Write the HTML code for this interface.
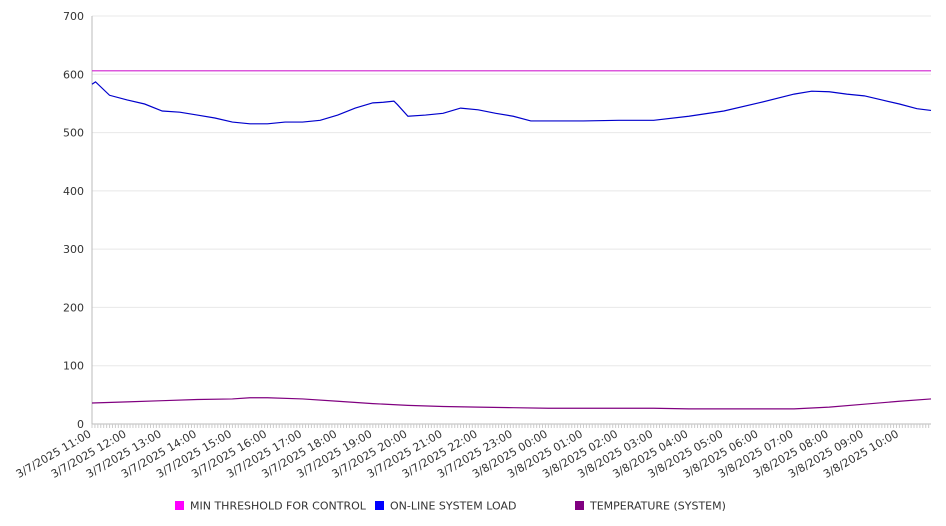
<!DOCTYPE html>
<html><head><meta charset="utf-8"><style>
body{margin:0;background:#fff;}
svg{display:block;font-family:"DejaVu Sans","Liberation Sans",sans-serif;}
</style></head><body>
<svg id="chart" width="946" height="526"></svg>
<script>
const hourLabels=["3/7/2025 11:00","3/7/2025 12:00","3/7/2025 13:00","3/7/2025 14:00","3/7/2025 15:00","3/7/2025 16:00","3/7/2025 17:00","3/7/2025 18:00","3/7/2025 19:00","3/7/2025 20:00","3/7/2025 21:00","3/7/2025 22:00","3/7/2025 23:00","3/8/2025 00:00","3/8/2025 01:00","3/8/2025 02:00","3/8/2025 03:00","3/8/2025 04:00","3/8/2025 05:00","3/8/2025 06:00","3/8/2025 07:00","3/8/2025 08:00","3/8/2025 09:00","3/8/2025 10:00"];
const yTicks=[0,100,200,300,400,500,600,700];
const threshold=606;
const loadTimes=[0,0.1,0.5,1,1.5,2,2.5,3,3.5,4,4.5,5,5.5,6,6.5,7,7.5,8,8.3,8.6,8.7,9,9.5,10,10.5,11,11.5,12,12.5,13,14,15,16,17,18,19,20,20.5,21,21.5,22,22.5,23,23.5,23.9];
const loadValues=[583,587,564,556,549,537,535,530,525,518,515,515,518,518,521,530,542,551,552,554,548,528,530,533,542,539,533,528,520,520,520,521,521,528,537,551,566,571,570,566,563,556,549,541,538];
const tempTimes=[0,1,2,3,4,4.5,5,6,7,8,9,10,11,12,13,14,15,16,17,18,19,20,21,22,23,23.9];
const tempValues=[36,38,40,42,43,45,45,43,39,35,32,30,29,28,27,27,27,27,26,26,26,26,29,34,39,43];
const X0=92,X1=931,Y0=424,Y1=16,TMAX=23.9;
const sx=t=>X0+(X1-X0)*t/TMAX;
const sy=v=>Y0-(Y0-Y1)*v/700;
const svg=document.getElementById('chart');
const NS='http://www.w3.org/2000/svg';
function mk(tag,attrs,parent){const e=document.createElementNS(NS,tag);for(const k in attrs)e.setAttribute(k,attrs[k]);(parent||svg).appendChild(e);return e;}
yTicks.forEach(v=>{
 const g=mk('line',{x1:X0,x2:X1,y1:sy(v),y2:sy(v),stroke:v===0?'#bbb':'#e8e8e8','stroke-width':1});
 
 
 const t=mk('text',{x:X0-8,y:sy(v)+4,'text-anchor':'end','font-size':11,fill:'#333'});
 t.textContent=v;
 
 
});
const ax=mk('line',{x1:X0,x2:X0,y1:Y1,y2:Y0,stroke:'#bbb'});


for(let m=0;m<=TMAX*60;m+=5){const l=mk('line',{x1:sx(m/60),x2:sx(m/60),y1:Y0,y2:Y0+4,stroke:'#ccc'});
 
 }
hourLabels.forEach((s,i)=>{
 const x=sx(i),y=Y0+12;
 const t=mk('text',{x:x,y:y,'text-anchor':'end','font-size':11,fill:'#333',transform:`rotate(-30 ${x} ${y})`});
 t.textContent=s;
 
 
});
const th=mk('line',{x1:X0,x2:X1,y1:sy(threshold),y2:sy(threshold),stroke:'#d020d0','stroke-width':1.2});


const lp=mk('polyline',{points:loadTimes.map((t,i)=>sx(t)+','+sy(loadValues[i])).join(' '),fill:'none',stroke:'#0000cc','stroke-width':1.2});


const tp=mk('polyline',{points:tempTimes.map((t,i)=>sx(t)+','+sy(tempValues[i])).join(' '),fill:'none',stroke:'#800080','stroke-width':1.2});


const legend=[["MIN THRESHOLD FOR CONTROL","#ff00ff",175],["ON-LINE SYSTEM LOAD","#0000ff",375],["TEMPERATURE (SYSTEM)","#800080",575]];
legend.forEach(([n,c,x])=>{
 const g=mk('g',{});
 
 
 mk('rect',{x:x,y:501,width:9,height:9,fill:c},g);
 const t=mk('text',{x:x+15,y:509.5,'font-size':11,fill:'#333'},g);
 t.textContent=n;
});
</script>
</body></html>
